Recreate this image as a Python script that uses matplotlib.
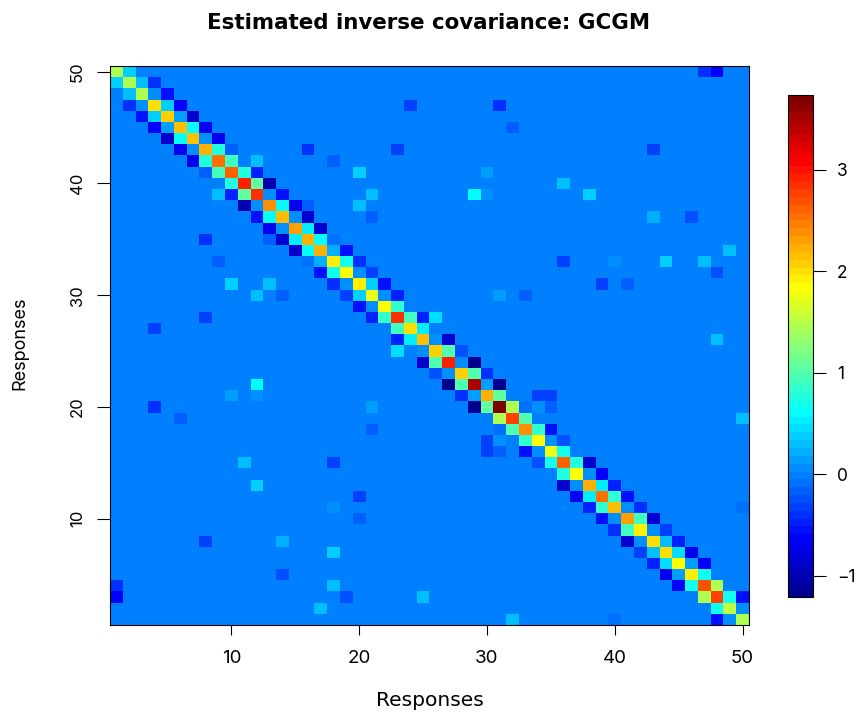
import numpy as np
import matplotlib
matplotlib.use("Agg")
import matplotlib.pyplot as plt
from matplotlib.colors import ListedColormap

plt.rcParams['font.family'] = ['Inter', 'Liberation Sans', 'DejaVu Sans']

# diagonal, read top-left to bottom-right
diag = [1.43, 1.43, 1.46, 2.0, 2.09, 2.17, 2.17, 2.25, 2.5, 2.58,
        2.91, 2.83, 2.42, 2.17, 2.33, 2.25, 2.25, 1.92, 1.84, 1.92,
        1.76, 1.84, 2.83, 2.0, 2.17, 2.09, 2.91, 2.09, 3.49, 2.25,
        3.71, 2.75, 2.42, 1.84, 1.76, 2.58, 1.84, 2.25, 2.5, 2.17,
        2.33, 1.92, 2.0, 2.0, 1.84, 1.92, 2.66, 2.75, 1.51, 1.43]

# first band next to the diagonal
band1 = [0.36, 0.28, 0.06, 0.36, 0.14, 0.6, 0.05, 0.76, 0.93, 0.76,
         1.1, 0.05, 0.6, 0.05, 0.52, 0.6, 0.22, 0.68, 0.06, 0.36,
         0.05, 0.81, 0.93, 0.52, 0.05, 1.02, 0.05, 1.02, 0.14, 1.1,
         1.43, 1.02, 0.85, 0.06, 0.68, 0.76, 0.05, 0.52, 0.85, 0.05,
         0.93, 0.05, 0.28, 0.44, 0.14, 0.68, 1.43, 0.68, 0.06]

# second band
band2 = [0, -0.38, -0.54, -0.64, -0.89, -0.71, -0.71, -0.14, 0, -0.46,
         -0.99, -0.54, -0.71, -0.89, -0.89, -0.06, -0.54, -0.38, -0.3, -0.54,
         -0.46, 0, -0.46, 0, -0.89, -0.22, -1.17, -0.42, -1.2, 0,
         -0.07, 0, -0.54, -0.22, 0, -0.89, -0.59, -0.46, -0.54, -0.38,
         -0.89, -0.3, -0.46, -0.71, -0.64, 0, 0, -0.54]

# scattered entries away from the diagonal (row from top, column, value)
extra_row = [1, 1, 4, 4, 6, 8, 8, 8, 9, 9, 10, 10, 11, 12, 12, 12, 12,
             13, 13, 14, 14, 14, 17, 18, 18, 18, 18, 19, 20, 20, 21, 21,
             23, 25, 30, 30, 31, 31, 32, 40]
extra_col = [47, 48, 24, 31, 32, 16, 23, 43, 12, 18, 20, 30, 36, 21, 29, 30, 38,
             16, 20, 21, 43, 46, 49, 36, 40, 44, 47, 48, 39, 41, 31, 33,
             26, 48, 34, 35, 34, 35, 50, 50]
extra_val = [-0.38, -0.64, -0.3, -0.38, -0.14, -0.38, -0.3, -0.3, 0.28, -0.14,
             0.36, 0.14, 0.28, 0.28, 0.6, 0.06, 0.36, -0.14, 0.28, -0.14,
             0.22, -0.22, 0.28, -0.3, 0.08, 0.36, 0.28, -0.22, -0.3, -0.14,
             0.14, -0.14, 0.44, 0.28, -0.3, -0.3, 0.06, -0.14, 0.28, -0.07]

ticks = [10, 20, 30, 40, 50]
cbar_ticks = [-1, 0, 1, 2, 3]
vmin = -1.207
vmax = 3.735

# the 64 step palette of the colour bar
palette = ["#00008F", "#00009F", "#0000AF", "#0000BF", "#0000CF", "#0000DF", "#0000EF", "#0000FF",
           "#0010FF", "#0020FF", "#0030FF", "#0040FF", "#0050FF", "#0060FF", "#0070FF", "#0080FF",
           "#008FFF", "#009FFF", "#00AFFF", "#00BFFF", "#00CFFF", "#00DFFF", "#00EFFF", "#00FFFF",
           "#10FFEF", "#20FFDF", "#30FFCF", "#40FFBF", "#50FFAF", "#60FF9F", "#70FF8F", "#80FF80",
           "#8FFF70", "#9FFF60", "#AFFF50", "#BFFF40", "#CFFF30", "#DFFF20", "#EFFF10", "#FFFF00",
           "#FFEF00", "#FFDF00", "#FFCF00", "#FFBF00", "#FFAF00", "#FF9F00", "#FF8F00", "#FF8000",
           "#FF7000", "#FF6000", "#FF5000", "#FF4000", "#FF3000", "#FF2000", "#FF1000", "#FF0000",
           "#EF0000", "#DF0000", "#CF0000", "#BF0000", "#AF0000", "#9F0000", "#8F0000", "#800000"]

# matrix is symmetric, only the upper half was read
m = np.diag(np.array(diag, dtype=float))
m += np.diag(band1, 1) + np.diag(band1, -1)
m += np.diag(band2, 2) + np.diag(band2, -2)
for r, c, v in zip(extra_row, extra_col, extra_val):
    m[r - 1, c - 1] = v
    m[c - 1, r - 1] = v

W, H = 862, 712
fig = plt.figure(figsize=(W / 100, H / 100), dpi=100)
ax = fig.add_axes([110 / W, 1 - 625 / H, 639 / W, 559 / H])

edges = np.arange(0.5, 51.5)
# row 1 of the matrix sits at the top, y = 50
mesh = ax.pcolormesh(edges, edges, m[::-1, :], cmap=ListedColormap(palette),
                     vmin=vmin, vmax=vmax)
ax.set_xlim(0.5, 50.5)
ax.set_ylim(0.5, 50.5)
ax.set_xticks(ticks)
ax.set_yticks(ticks)
ax.tick_params(axis='x', length=7.5, width=0.8, labelsize=13.5, pad=10.5)
ax.tick_params(axis='y', length=9.4, width=0.8, labelsize=12, pad=8.5)
for lab in ax.get_yticklabels():
    lab.set_rotation(90)
    lab.set_va('center')
for s in ax.spines.values():
    s.set_linewidth(0.8)

# the wider family fits the stretched lettering of the title and x label
fig.text(429 / W, 1 - 23 / H, 'Estimated inverse covariance: GCGM',
         ha='center', va='center', fontsize=15.4, fontweight='bold', family='DejaVu Sans')
fig.text(430 / W, 1 - 700 / H, 'Responses', ha='center', va='center',
         fontsize=14.6, family='DejaVu Sans')
fig.text(20 / W, 1 - 343 / H, 'Responses', ha='center', va='center',
         rotation=90, fontsize=13)

cax = fig.add_axes([788 / W, 1 - 597 / H, 25 / W, 502 / H])
cb = fig.colorbar(mesh, cax=cax)
cb.set_ticks(cbar_ticks)
cb.ax.tick_params(length=9.4, width=0.8, labelsize=12.5, pad=8)
cb.outline.set_linewidth(0.8)

fig.savefig('out.png', dpi=100)
